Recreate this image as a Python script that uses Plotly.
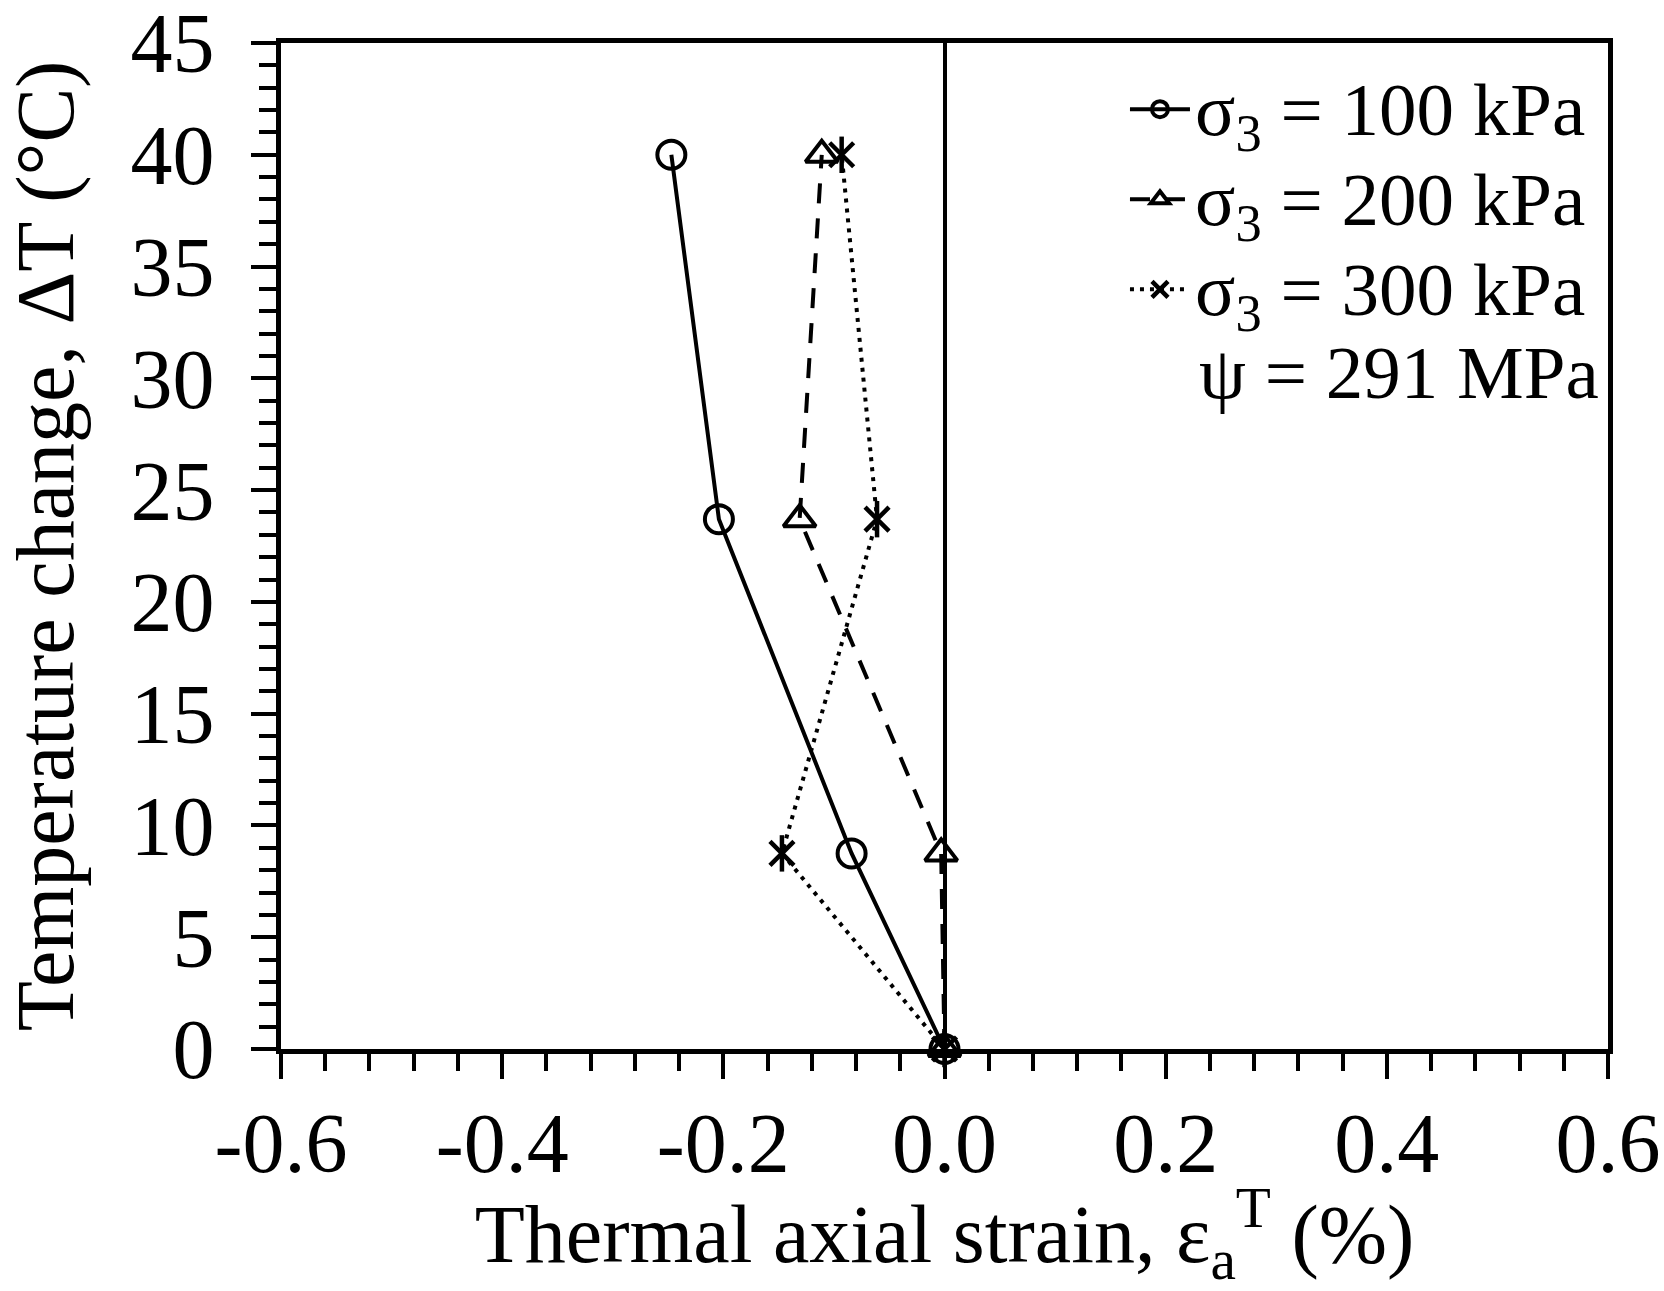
import plotly.graph_objects as go

# Temperature change ΔT (°C) at each measurement stage
delta_t = [0, 8.75, 23.7, 40]

# Thermal axial strain (%) for each confining pressure
strain_100 = [0, -0.084, -0.204, -0.247]
strain_200 = [0, -0.003, -0.131, -0.111]
strain_300 = [0, -0.147, -0.061, -0.093]

series_names = ["σ<sub>3</sub> = 100 kPa", "σ<sub>3</sub> = 200 kPa", "σ<sub>3</sub> = 300 kPa"]
suction_note = "ψ = 291 MPa"

x_tick_vals = [-0.6, -0.4, -0.2, 0.0, 0.2, 0.4, 0.6]
x_tick_text = ["-0.6", "-0.4", "-0.2", "0.0", "0.2", "0.4", "0.6"]
y_tick_vals = [0, 5, 10, 15, 20, 25, 30, 35, 40, 45]

FONT = "Liberation Serif, Times New Roman, serif"
BLACK = "black"
LW = 4
MS = 28
AXIS_FONT = 84
TITLE_FONT = 82
LEGEND_FONT = 75

fig = go.Figure()

fig.add_trace(go.Scatter(
    x=strain_100, y=delta_t, name=series_names[0], mode="lines+markers",
    line=dict(color=BLACK, width=LW, dash="solid"),
    marker=dict(symbol="circle-open", size=MS, color=BLACK, line=dict(width=4, color=BLACK)),
    cliponaxis=False,
))
fig.add_trace(go.Scatter(
    x=strain_200, y=delta_t, name=series_names[1], mode="lines+markers",
    line=dict(color=BLACK, width=LW, dash="20px,15px"),
    marker=dict(symbol="triangle-up-open", size=MS, color=BLACK, line=dict(width=4, color=BLACK)),
    cliponaxis=False,
))
fig.add_trace(go.Scatter(
    x=strain_300, y=delta_t, name=series_names[2], mode="lines+markers",
    line=dict(color=BLACK, width=LW, dash="4px,6px"),
    marker=dict(symbol="x-thin-open", size=MS - 4, color=BLACK, line=dict(width=4.5, color=BLACK)),
    cliponaxis=False,
))
# vertical stroke completing the six-armed star marker
fig.add_trace(go.Scatter(
    x=strain_300, y=delta_t, mode="markers", showlegend=False, hoverinfo="skip",
    marker=dict(symbol="line-ns-open", size=MS - 2, color=BLACK, line=dict(width=4.5, color=BLACK)),
    cliponaxis=False,
))

fig.add_annotation(
    text=suction_note, xref="paper", yref="paper", x=0.690, y=0.672,
    xanchor="left", yanchor="middle", showarrow=False,
    font=dict(family=FONT, size=LEGEND_FONT, color=BLACK),
)

fig.update_layout(
    width=1664, height=1291,
    margin=dict(l=281, r=56, t=43, b=242),
    paper_bgcolor="white", plot_bgcolor="white",
    font=dict(family=FONT, color=BLACK),
    showlegend=True,
    legend=dict(
        x=0.636, y=0.984, xanchor="left", yanchor="top",
        bgcolor="rgba(0,0,0,0)", borderwidth=0,
        font=dict(family=FONT, size=67, color=BLACK),
        itemwidth=60,
    ),
)

# legend labels drawn a little larger than the row spacing implies
for tr in fig.data:
    if tr.showlegend is not False and tr.name:
        tr.name = f'<span style="font-size:{LEGEND_FONT}px">{tr.name}</span>'

fig.update_xaxes(
    range=[-0.6, 0.6], tickvals=x_tick_vals, ticktext=x_tick_text,
    showline=True, linecolor=BLACK, linewidth=4.5, mirror=True,
    ticks="outside", ticklen=25, tickwidth=4, tickcolor=BLACK,
    minor=dict(dtick=0.04, ticks="outside", ticklen=17, tickwidth=4, tickcolor=BLACK),
    showgrid=False,
    zeroline=True, zerolinecolor=BLACK, zerolinewidth=3.5,
    tickfont=dict(family=FONT, size=AXIS_FONT, color=BLACK),
    ticklabelstandoff=-8, ticklabeloverflow="allow",
    title=dict(text="Thermal axial strain, ε<sub>a</sub><sup>T</sup> (%)",
               font=dict(family=FONT, size=TITLE_FONT, color=BLACK), standoff=70),
    automargin=False,
)
fig.update_yaxes(
    range=[0, 45], tickvals=y_tick_vals,
    showline=True, linecolor=BLACK, linewidth=4.5, mirror=True,
    ticks="outside", ticklen=25, tickwidth=4, tickcolor=BLACK,
    minor=dict(dtick=1, ticks="outside", ticklen=17, tickwidth=4, tickcolor=BLACK),
    showgrid=False, zeroline=False,
    tickfont=dict(family=FONT, size=AXIS_FONT, color=BLACK),
    ticklabelstandoff=20, ticklabeloverflow="allow",
    title=dict(text="Temperature change, ΔT (°C)",
               font=dict(family=FONT, size=TITLE_FONT, color=BLACK), standoff=32),
    automargin=False,
)

fig.write_html("out.html")
